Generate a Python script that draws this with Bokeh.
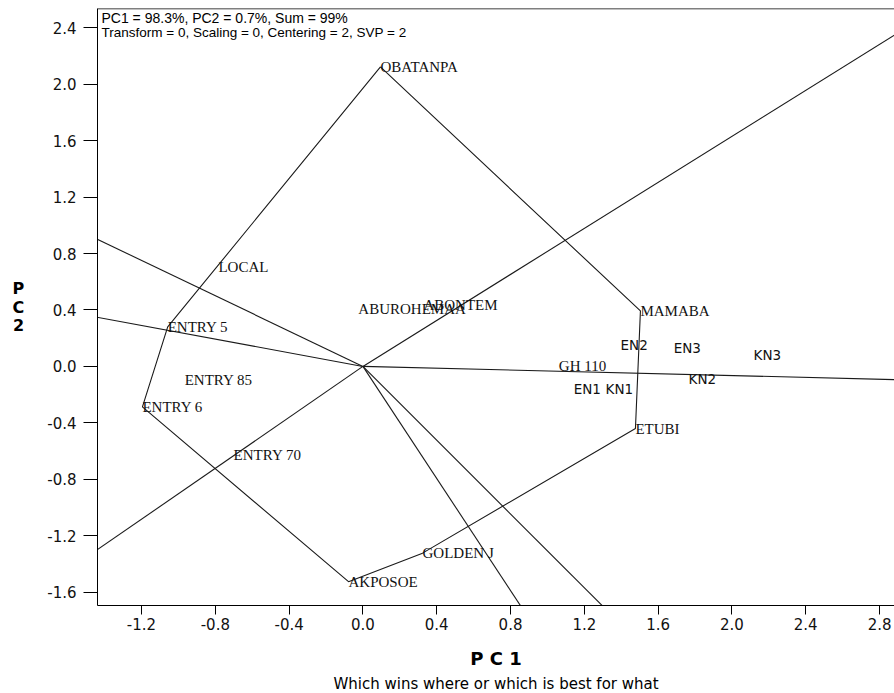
import numpy as np
from bokeh.plotting import figure
from bokeh.models import (Range1d, FixedTicker, NumeralTickFormatter, Label,
                          Span, Title, ColumnDataSource)
from bokeh.core.properties import value
from bokeh.embed import file_html
from bokeh.resources import INLINE

# ---- data ----
genotypes = ["OBATANPA", "MAMABA", "ETUBI", "GOLDEN J", "AKPOSOE", "ENTRY 6",
             "ENTRY 5", "LOCAL", "ENTRY 85", "ENTRY 70", "ABUROHEMAA",
             "ABONTEM", "GH 110"]
gen_pc1 = [0.095, 1.504, 1.477, 0.323, -0.078, -1.195,
           -1.058, -0.783, -0.966, -0.701, -0.025,
           0.328, 1.062]
gen_pc2 = [2.122, 0.393, -0.440, -1.323, -1.525, -0.287,
           0.280, 0.704, -0.096, -0.626, 0.405,
           0.435, 0.005]

environments = ["EN1", "EN2", "EN3", "KN1", "KN2", "KN3"]
env_pc1 = [1.142, 1.396, 1.684, 1.315, 1.765, 2.117]
env_pc2 = [-0.159, 0.152, 0.131, -0.159, -0.088, 0.081]

hull_order = ["OBATANPA", "MAMABA", "ETUBI", "GOLDEN J", "AKPOSOE",
              "ENTRY 6", "ENTRY 5"]

x_ticks = [-1.2, -0.8, -0.4, 0.0, 0.4, 0.8, 1.2, 1.6, 2.0, 2.4, 2.8]
y_ticks = [-1.6, -1.2, -0.8, -0.4, 0.0, 0.4, 0.8, 1.2, 1.6, 2.0, 2.4]

info_lines = ["PC1 = 98.3%, PC2 = 0.7%, Sum = 99%",
              "Transform = 0, Scaling = 0, Centering = 2, SVP = 2"]
x_title = "P C 1"
y_title = "P\nC\n2"
subtitle = "Which wins where or which is best for what"

X_START, X_END = -1.4385, 2.881
Y_START, Y_END = -1.694, 2.536

LINE = "#1a1a1a"

p = figure(width=894, height=693, output_backend="svg", toolbar_location=None,
           x_range=Range1d(X_START, X_END), y_range=Range1d(Y_START, Y_END),
           min_border_left=97, min_border_right=0, min_border_top=8,
           min_border_bottom=87)
p.grid.visible = False
p.outline_line_color = None
p.background_fill_color = "white"
p.border_fill_color = "white"

# ---- polygon of the vertex genotypes ----
idx = [genotypes.index(g) for g in hull_order]
hx = [gen_pc1[i] for i in idx]
hy = [gen_pc2[i] for i in idx]
p.line(hx + [hx[0]], hy + [hy[0]], line_color=LINE, line_width=1.1)

# ---- rays from the origin perpendicular to each side ----
rx1, ry1 = [], []
n = len(hx)
for k in range(n):
    a = np.array([hx[k], hy[k]])
    b = np.array([hx[(k + 1) % n], hy[(k + 1) % n]])
    d = b - a
    t = -np.dot(a, d) / np.dot(d, d)
    foot = a + t * d
    u = foot / np.linalg.norm(foot)
    rx1.append(u[0] * 20)
    ry1.append(u[1] * 20)
p.segment(x0=[0] * n, y0=[0] * n, x1=rx1, y1=ry1, line_color=LINE,
          line_width=1.1)

# ---- labels ----
gsrc = ColumnDataSource(dict(x=gen_pc1, y=gen_pc2, t=genotypes))
p.text(x="x", y="y", text="t", source=gsrc, text_font=value("Liberation Serif"),
       text_font_size="15px", text_color="#111111", text_align="left",
       text_baseline="middle")
esrc = ColumnDataSource(dict(x=env_pc1, y=env_pc2, t=environments))
p.text(x="x", y="y", text="t", source=esrc, text_font=value("DejaVu Sans"),
       text_font_size="13.5px", text_color="#111111", text_align="left",
       text_baseline="middle")

# ---- info text in the top-left corner ----
for i, (line, fs) in enumerate(zip(info_lines, ["14px", "13.5px"])):
    p.add_layout(Label(x=X_START, y=Y_END, x_offset=4, y_offset=-1 - 15 * i,
                       text=line, text_font="Liberation Sans",
                       text_font_size=fs, text_color="black",
                       text_baseline="top", text_align="left"))

# top frame line
p.add_layout(Span(location=Y_END, dimension="width", line_color="black",
                  line_width=1.5))

# ---- axes ----
for ax in (p.xaxis[0], p.yaxis[0]):
    ax.axis_line_color = "black"
    ax.major_tick_line_color = "black"
    ax.minor_tick_line_color = None
    ax.major_tick_in = 0
    ax.major_label_text_font = "DejaVu Sans"
    ax.major_label_text_font_size = "15px"
    ax.major_label_text_color = "#111111"
    ax.formatter = NumeralTickFormatter(format="0.0")
    ax.axis_label_text_font = "DejaVu Sans"
    ax.axis_label_text_font_style = "bold"
    ax.axis_label_text_color = "black"

p.xaxis[0].ticker = FixedTicker(ticks=x_ticks)
p.yaxis[0].ticker = FixedTicker(ticks=y_ticks)
p.xaxis[0].major_tick_out = 9
p.yaxis[0].major_tick_out = 14
p.xaxis[0].major_label_standoff = 3
p.yaxis[0].major_label_standoff = 7
p.xaxis[0].axis_label = x_title
p.xaxis[0].axis_label_text_font_size = "18px"
p.xaxis[0].axis_label_standoff = 15
p.yaxis[0].axis_label = y_title
p.yaxis[0].axis_label_orientation = "horizontal"
p.yaxis[0].axis_label_text_font_size = "16px"
p.yaxis[0].axis_label_text_line_height = 0.95
p.yaxis[0].axis_label_standoff = 20

p.add_layout(Title(text=subtitle, align="center", text_font="DejaVu Sans",
                   text_font_size="15px", text_font_style="normal",
                   text_color="black", standoff=2), "below")

open("out.html", "w").write(file_html(p, INLINE))
